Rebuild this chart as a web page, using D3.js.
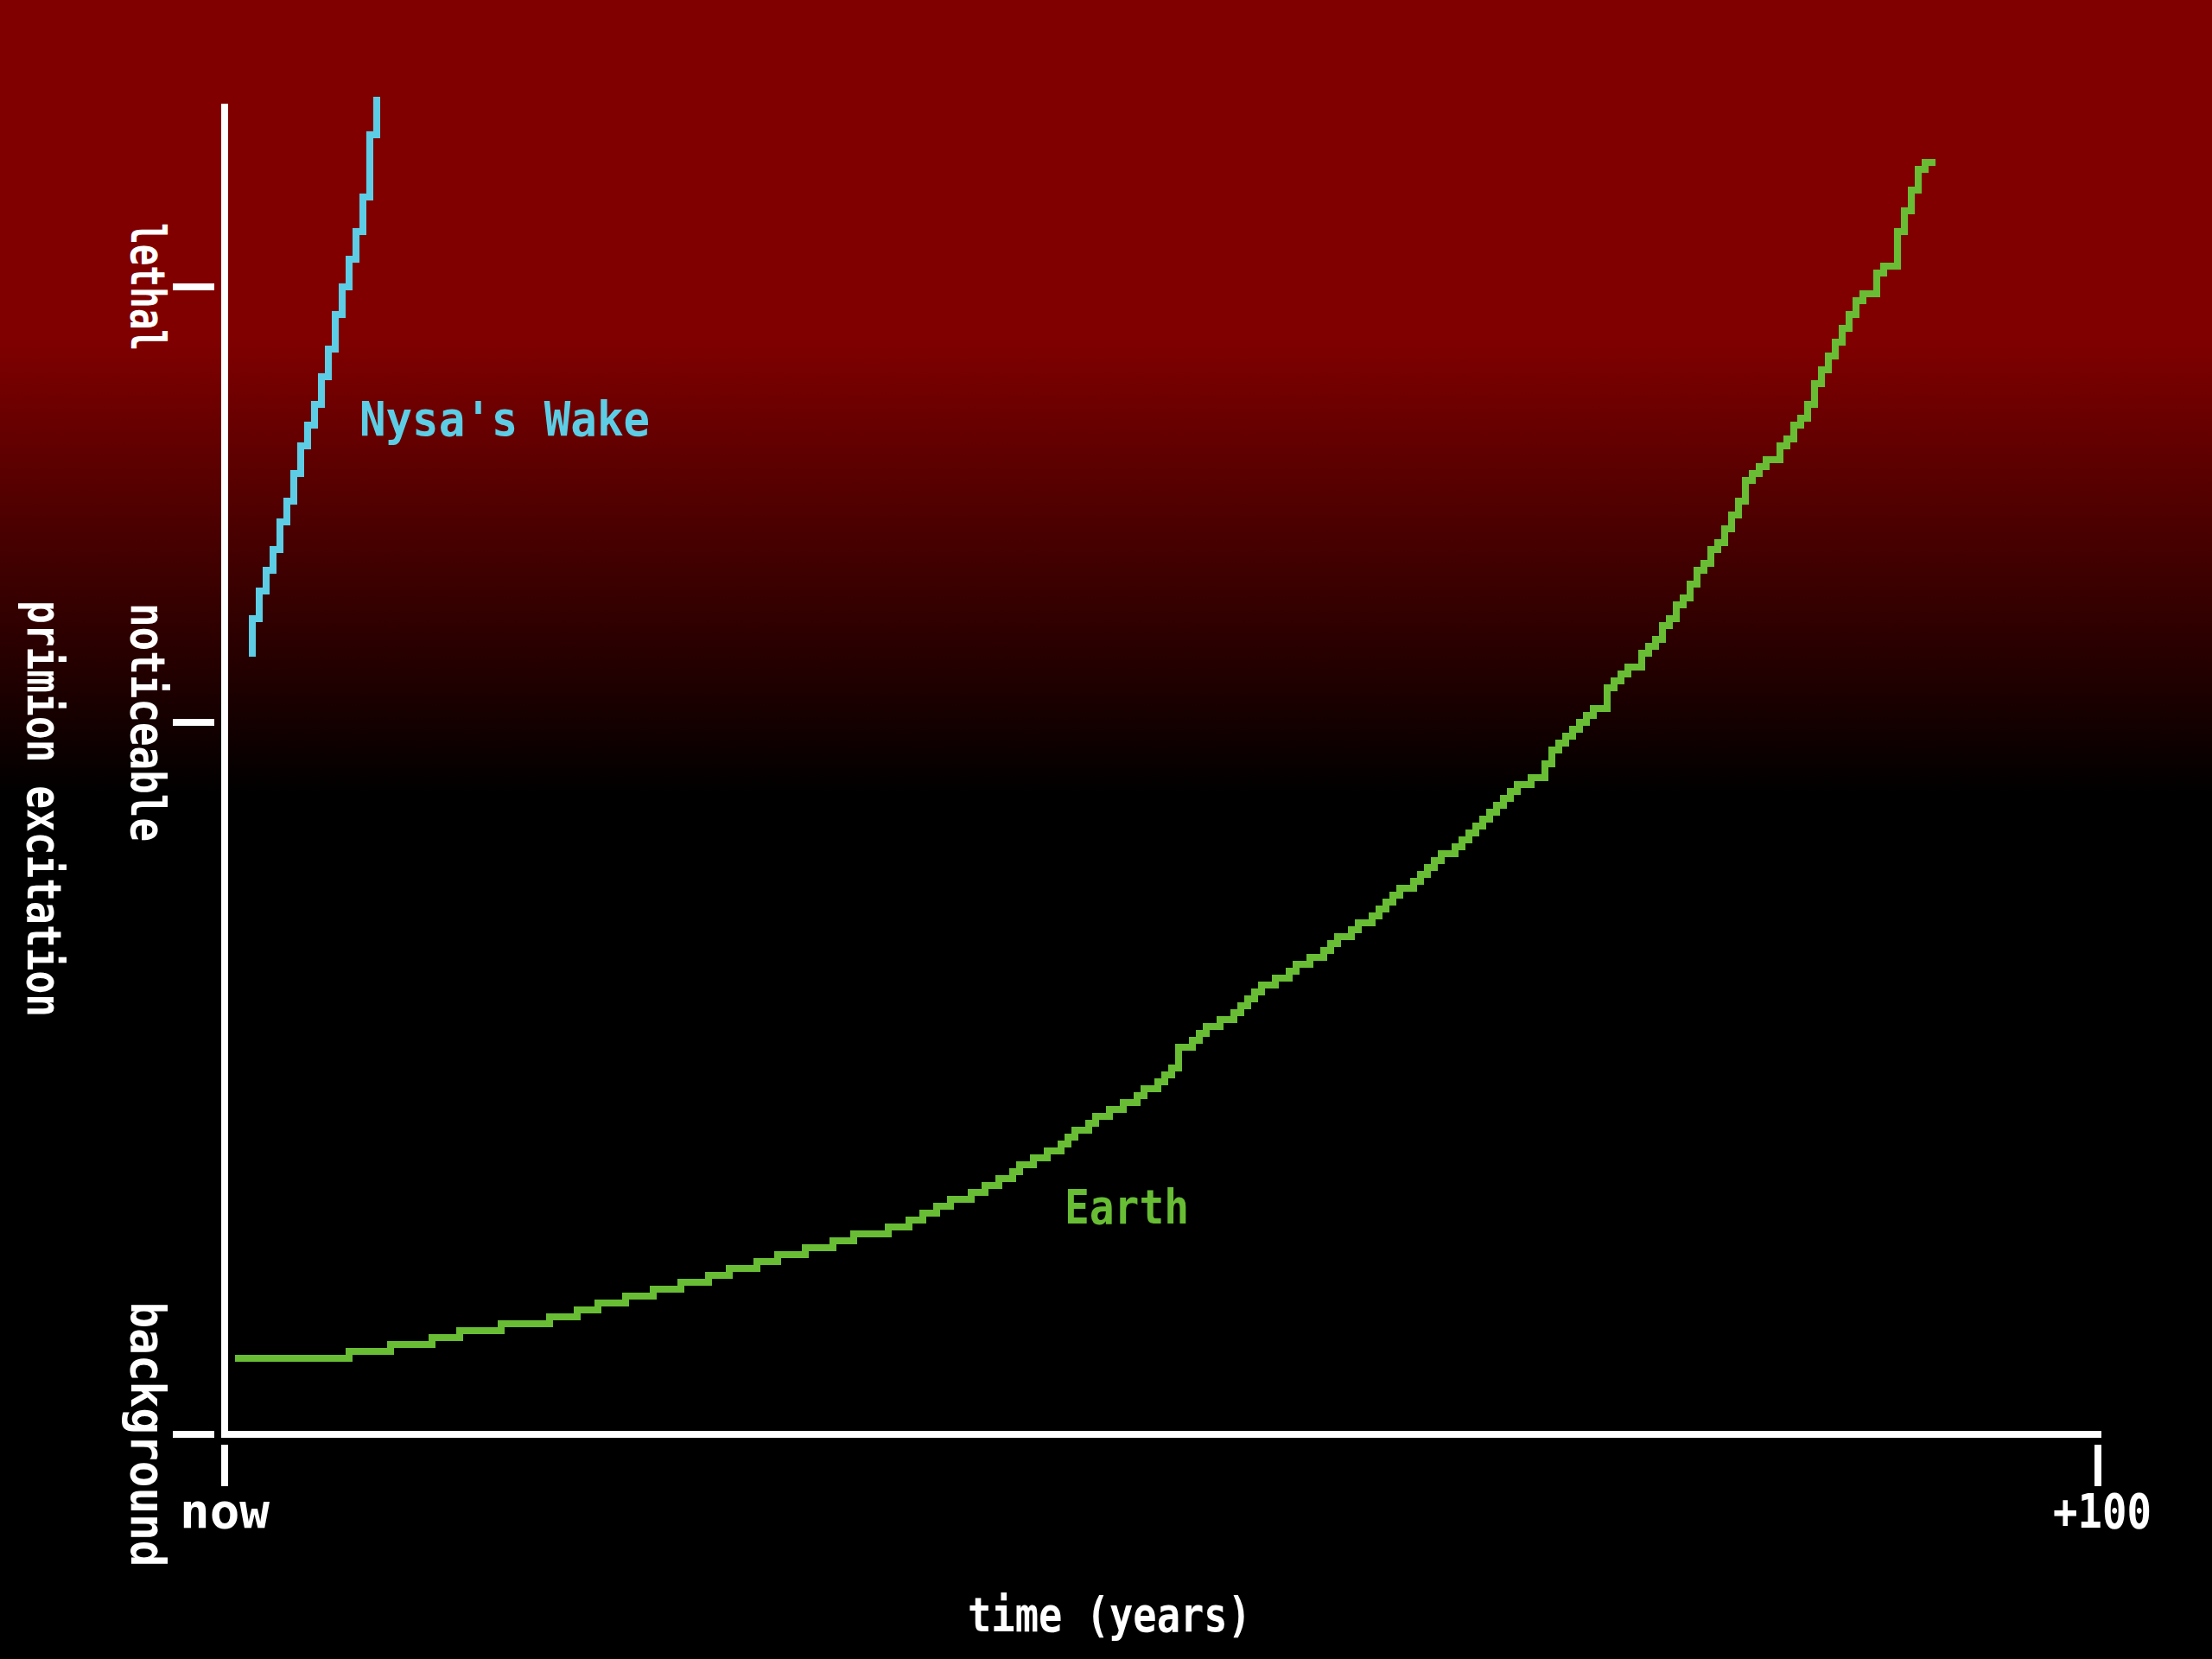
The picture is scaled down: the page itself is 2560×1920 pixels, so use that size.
<!DOCTYPE html>
<html>
<head>
<meta charset="utf-8">
<script src="https://cdn.jsdelivr.net/npm/d3@7"></script>
<style>
  html, body { margin: 0; padding: 0; background: #000; }
  svg { display: block; }
  text { font-family: "DejaVu Sans Mono", "Liberation Mono", monospace; font-weight: bold; }
</style>
</head>
<body>
<svg id="chart" width="2560" height="1920"></svg>
<script>
// ---------------- data ----------------
// x: years from now; y: primion excitation (arbitrary units, background = 0)
const earthYears = [0.74, 6.64, 8.86, 11.07, 12.55, 14.76, 17.34, 18.82, 19.93, 21.40, 22.88, 24.35, 25.83, 26.94, 28.41, 29.52, 31.00, 32.47, 33.58, 35.42, 36.53, 37.27, 38.01, 38.75, 39.85, 40.59, 41.33, 42.07, 42.44, 43.17, 43.91, 44.65, 45.02, 45.39, 46.13, 46.49, 47.23, 47.97, 48.71, 49.08, 49.82, 50.18, 50.55, 50.92, 50.92, 51.66, 52.03, 52.40, 53.14, 53.87, 54.24, 54.61, 54.98, 55.35, 56.09, 56.83, 57.20, 57.93, 59.41, 60.52, 61.62, 62.73, 63.47, 64.94, 65.68, 67.16, 69.00, 70.11, 70.85, 71.59, 73.43, 73.80, 74.54, 75.28, 76.38, 77.12, 77.86, 78.97, 79.70, 80.44, 81.18, 81.92, 82.66, 83.39, 84.13, 84.50, 84.87, 85.24, 85.61, 85.98, 86.35, 87.08, 87.82, 88.19, 88.93, 89.30, 89.67, 90.04, 90.41, 90.77, 91.14];
const earthLevels = [11, 11, 12, 13, 14, 15, 16, 17, 18, 19, 20, 21, 22, 23, 24, 25, 26, 27, 28, 29, 30, 31, 32, 33, 34, 35, 36, 37, 38, 39, 40, 41, 42, 43, 44, 45, 46, 47, 48, 49, 50, 51, 52, 53, 56, 56, 57, 58, 59, 60, 61, 62, 63, 64, 65, 66, 67, 68, 71, 73, 75, 78, 79, 83, 84, 88, 93, 95, 98, 100, 105, 107, 109, 111, 115, 118, 121, 126, 129, 133, 137, 139, 141, 144, 147, 149, 152, 154, 156, 158, 160, 163, 165, 167, 169, 174, 177, 180, 182, 183, 184];

const nysaYears = [1.48, 1.48, 1.85, 2.21, 2.58, 2.95, 3.32, 3.69, 4.06, 4.43, 4.80, 5.17, 5.54, 5.90, 6.27, 6.64, 7.01, 7.38, 7.75, 8.12];
const nysaLevels = [113, 118, 122, 125, 128, 132, 135, 139, 143, 146, 149, 153, 157, 162, 166, 170, 174, 179, 188, 193];

const yTickValues = [0, 103, 166];
const yTickLabels = ["background", "noticeable", "lethal"];
const xTickValues = [0, 100];
const xTickLabels = ["now", "+100"];

const seriesNames = ["Nysa's Wake", "Earth"];
const xTitle = "time (years)";
const yTitle = "primion excitation";

// ---------------- layout ----------------
const W = 2560, H = 1920, G = 8;
const colors = { nysa: "#5dcde5", earth: "#68bd35", ink: "#ffffff" };

const svg = d3.select("#chart");
const defs = svg.append("defs");
const grad = defs.append("linearGradient").attr("id", "bg")
  .attr("gradientUnits", "userSpaceOnUse")
  .attr("x1", 0).attr("y1", 392).attr("x2", 0).attr("y2", 920);
grad.append("stop").attr("offset", 0).attr("stop-color", "#800000");
grad.append("stop").attr("offset", 1).attr("stop-color", "#000000");
svg.append("rect").attr("width", W).attr("height", H).attr("fill", "url(#bg)");

const x = d3.scaleLinear().domain([0, 100]).range([260, 2428]);
const y = d3.scaleLinear().domain([0, 192.5]).range([1660, 120]);

// pixel-art curve: rasterise each segment onto an 8px grid as a 4-connected staircase
function pixelCurve(context) {
  let pi, pj, started;
  const c = v => v * G + G / 2;
  return {
    areaStart() {}, areaEnd() {},
    lineStart() { started = false; },
    lineEnd() {},
    point(px, py) {
      const i = Math.floor(px / G), j = Math.floor(py / G);
      if (!started) { started = true; context.moveTo(c(i), c(j)); }
      else {
        const nx = Math.abs(i - pi), ny = Math.abs(j - pj);
        const sx = Math.sign(i - pi), sy = Math.sign(j - pj);
        let ix = 0, iy = 0, ci = pi, cj = pj;
        while (ix < nx || iy < ny) {
          let stepX;
          if (ix >= nx) stepX = false;
          else if (iy >= ny) stepX = true;
          else {
            const fx = ix / nx, fy = iy / ny;
            if (fx < fy) stepX = true;
            else if (fx > fy) stepX = false;
            else stepX = nx < ny;
          }
          if (stepX) { ci += sx; ix++; } else { cj += sy; iy++; }
          context.lineTo(c(ci), c(cj));
        }
      }
      pi = i; pj = j;
    }
  };
}

const line = d3.line().x(d => x(d[0])).y(d => y(d[1])).curve(pixelCurve);

// ---------------- axes ----------------
const axes = svg.append("g").attr("stroke", colors.ink).attr("stroke-width", G)
  .attr("shape-rendering", "crispEdges");
// y axis line
axes.append("line").attr("x1", x(0)).attr("x2", x(0)).attr("y1", y(192.5)).attr("y2", y(0) + G / 2);
// x axis line
axes.append("line").attr("x1", x(0) - G / 2).attr("x2", x(100) + G / 2).attr("y1", y(0)).attr("y2", y(0));
// y ticks
axes.selectAll(".ytick").data(yTickValues).join("line").attr("class", "ytick")
  .attr("x1", x(0) - 60).attr("x2", x(0) - 12)
  .attr("y1", d => y(d)).attr("y2", d => y(d));
// x ticks
axes.selectAll(".xtick").data(xTickValues).join("line").attr("class", "xtick")
  .attr("x1", d => x(d)).attr("x2", d => x(d))
  .attr("y1", y(0) + 12).attr("y2", y(0) + 60);

const FS = 55;
// y tick labels (rotated, reading downwards)
svg.selectAll(".ylab").data(yTickValues).join("text").attr("class", "ylab")
  .attr("transform", d => `translate(152,${y(d)}) rotate(90)`)
  .attr("text-anchor", "middle").attr("fill", colors.ink).attr("font-size", FS)
  .attr("textLength", (d, i) => [307, 276, 148][i]).attr("lengthAdjust", "spacingAndGlyphs")
  .text((d, i) => yTickLabels[i]);

// x tick labels
svg.selectAll(".xlab").data(xTickValues).join("text").attr("class", "xlab")
  .attr("x", (d, i) => x(d) + [0, 5][i]).attr("y", 1768)
  .attr("text-anchor", "middle").attr("fill", colors.ink).attr("font-size", FS)
  .attr("textLength", (d, i) => [104, 114][i]).attr("lengthAdjust", "spacingAndGlyphs")
  .text((d, i) => xTickLabels[i]);

// axis titles
svg.append("text").attr("x", 1284).attr("y", 1888).attr("text-anchor", "middle")
  .attr("fill", colors.ink).attr("font-size", FS)
  .attr("textLength", 328).attr("lengthAdjust", "spacingAndGlyphs").text(xTitle);
svg.append("text").attr("transform", "translate(32,936) rotate(90)").attr("text-anchor", "middle")
  .attr("fill", colors.ink).attr("font-size", FS)
  .attr("textLength", 482).attr("lengthAdjust", "spacingAndGlyphs").text(yTitle);

// ---------------- series ----------------
const earth = earthYears.map((t, i) => [t, earthLevels[i]]);
const nysa = nysaYears.map((t, i) => [t, nysaLevels[i]]);

svg.append("path").datum(earth).attr("d", line)
  .attr("fill", "none").attr("stroke", colors.earth).attr("stroke-width", G)
  .attr("stroke-linecap", "square").attr("stroke-linejoin", "miter")
  .attr("shape-rendering", "crispEdges");
svg.append("path").datum(nysa).attr("d", line)
  .attr("fill", "none").attr("stroke", colors.nysa).attr("stroke-width", G)
  .attr("stroke-linecap", "square").attr("stroke-linejoin", "miter")
  .attr("shape-rendering", "crispEdges");

// series labels
svg.append("text").attr("x", 416).attr("y", 504).attr("fill", colors.nysa).attr("font-size", FS)
  .attr("textLength", 336).attr("lengthAdjust", "spacingAndGlyphs").text(seriesNames[0]);
svg.append("text").attr("x", 1232).attr("y", 1416).attr("fill", colors.earth).attr("font-size", FS)
  .attr("textLength", 144).attr("lengthAdjust", "spacingAndGlyphs").text(seriesNames[1]);
</script>
</body>
</html>
